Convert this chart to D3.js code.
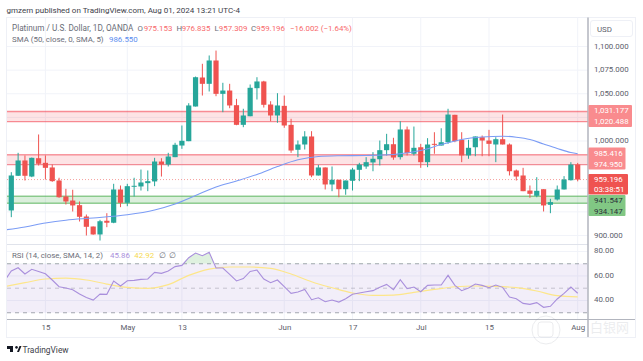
<!DOCTYPE html>
<html>
<head>
<meta charset="utf-8">
<script src="https://cdnjs.cloudflare.com/ajax/libs/d3/7.8.5/d3.min.js"></script>
<style>
html, body { margin: 0; padding: 0; background: #fff; }
svg { display: block; font-family: Roboto, sans-serif; }
</style>
</head>
<body>
<svg id="chart" width="643" height="361"></svg>
<script>
// daily candles, first bar is 8 Apr, last is 1 Aug
var opens = [926.5,963.2,979.4,962.4,981.8,976.9,972,958.2,941.3,937,932.1,920.1,909.5,901.1,915.6,913.5,948.7,934.6,951.9,951.9,955.4,957.2,978.3,975.1,982.9,995.2,
    999.8,1036.5,1067.2,1060.5,1085.2,1049.9,1053.4,1037.9,1017.1,1026.2,1055.9,1063,1038.6,1027,1037.2,1017.1,990.7,996.3,1004.8,963.5,972,954,959,949,957.9,969.5,
    973,977.3,980.7,990.3,996.6,982.9,1012.2,986.5,993.4,977.6,997,995.2,998.7,1027.7,1001.3,984.7,993.4,1004,1000.5,996.3,1001.9,996.3,968.8,963.5,947.6,942,949,
    932.5,938.1,948.7,958.5,975.153];
var highs = [967,987.5,984.7,982.5,1006.9,984.7,975.1,961.1,949.4,948.4,936,922.2,909.5,916.6,923.6,954.7,952.9,954.7,961.1,969.8,968.8,982.2,981.8,987.5,998.1,1016.4,
    1040,1068.2,1081.7,1090.5,1095.7,1061.6,1060.5,1044.6,1034.1,1059.8,1067.5,1063.7,1042.1,1050.6,1048.1,1023.5,1000.5,1010.4,1010.4,974.8,972,973,959,958.2,971.6,976.9,
    982.9,988.2,1000.5,1007.6,1003.4,1020.9,1015.3,1015.3,997,1003,1009.3,1013.5,1034.1,1027.7,1009.3,1001.3,1004.8,1005.8,1011.8,1004,1028,997.4,969.8,971.6,952.9,961.7,949,
    938.8,952.9,962.8,977.6,976.835];
var lows = [919.4,963,958.2,961.7,974.1,959.3,956.8,939.9,932.8,925.4,914.8,900,900.8,894.7,908.8,913,930,931,941.3,947.6,946.9,952.2,962.4,973,982.9,991.7,
    999.8,1036.5,1048.1,1052.4,1047.4,1030.5,1034.7,1016.7,1014.6,1026.2,1043.9,1035.4,1020.9,1019.3,1014,987.5,982.9,991,961.7,963.5,948.7,946.9,940.5,943.1,947.6,957.5,
    970.6,968,974.1,984.7,980.1,980.4,984.7,984.7,971.6,972.3,986.5,995.2,997,998.7,977.6,981.2,983.9,983.9,983.9,977.6,996.3,963.5,958.2,946.9,939.9,940.5,925.4,
    923.6,937,948.7,958.2,957.309];
var closes = [963.5,979.4,963.2,982.2,975.9,971.6,957.5,940.5,936,931.8,919.8,909.2,901.1,915.1,913.5,948.7,934.6,952.2,952.6,956.1,957.5,978.3,975.1,983.6,996,1000.2,
    1037.6,1067.5,1060.5,1085.2,1049.9,1053.4,1037.6,1017.1,1027,1056.3,1063,1038.3,1027,1037.6,1016.4,989.9,996.3,1004.8,963.5,972,954,959,949,958.2,969.8,975.1,
    977.6,981.2,990.3,996.6,982.5,1012.2,987.1,992.8,977.6,996.3,996.3,998.7,1028,999.8,984.7,992.8,1004.8,1000.5,997,1001.9,996.3,968,962.4,946.9,944.1,947.3,931.8,
    935.3,948.7,959.3,975.1,959.196];

var smaIndex = [-1,2,5,8,12,17,21,24,27,30,33,36,39,42,45,48,52,56,60,63,66,69,72,74,76,78,80,82,83];
var smaValues = [905.8,909,913.2,916.2,918.5,921.9,927,933.3,942.3,951.3,957.7,964.6,973,980.1,983.6,984.4,984.7,985.7,989.9,996.3,1001.6,1004.2,1005.1,1004,1001.6,996.8,992.1,987.8,986.55];

// rsi starts one bar left of the visible candles
var rsiValues = [55.9,64,66.7,61.6,65.4,63.7,61.8,56.7,51.2,50.1,48.8,45.2,42.5,40.3,45.2,45,55.9,51.8,56.1,56.4,57.2,57.5,62.9,62.1,64,67.6,68.6,74.9,78.7,76.5,79.3,
    66.5,66.5,61.3,55.9,57.8,63.7,64.8,57.5,54.5,56.7,51.2,45.8,46.9,49,40.6,42.2,39,40.3,38.7,41.4,45,46.1,47.1,48,50.7,53.1,48.8,56.9,49.6,51,47.1,52.3,52.6,52.6,
    60.5,52.3,48,50.1,53.4,52.3,50.4,52.6,50.7,42.8,41.4,37.6,36.8,38.2,34.4,35.2,41.2,45.8,51,45.86];
var rsiSmaIndex = [-1,2,5,8,11,14,17,20,23,26,29,32,35,38,41,44,47,50,53,56,59,62,65,68,71,74,77,80,83];
var rsiSmaValues = [51.2,54.5,57.5,58.3,56.7,53.4,50.7,49.9,52.9,60.5,65.6,67.3,67.3,66.2,61.6,55.3,50.4,46.1,44.1,44.4,46.6,49,51.2,51.8,51.5,50.4,47.7,43.9,42.92];

var redZone1 = [1020.488, 1031.177];
var redZone2 = [974.95, 985.416];
var greenZone = [934.147, 941.547];
var lastPrice = 959.196;

var priceGrid = [1100,1075,1050,1025,1000,975,950,925,900];
var priceTicks = [1100,1075,1050,1000,900];
var rsiTicks = [80,60,40];
var rsiBands = [70,50,30];
var dateTicks = [5,17,25,40,50,60,70,83];
var dateLabels = ["15","May","13","Jun","17","Jul","15","Aug"];

//////////////////////////////////////////////////////////////////////////////

var UP = "#26a69a", DOWN = "#ef5350";
var plotLeft = 7, plotRight = 588, plotTop = 17.5;
var textCol = "#5d606b";
var fontSize = 7.9;

var x = d3.scaleLinear().domain([0, 83]).range([11.3, 577.7]);
var y = d3.scaleLinear().domain([900, 1100]).range([235.5, 46.5]);
var yRsi = d3.scaleLinear().domain([30, 70]).range([312.7, 263.7]);

var svg = d3.select("#chart");
svg.append("defs").append("clipPath").attr("id", "plot")
    .append("rect").attr("x", plotLeft).attr("y", plotTop).attr("width", plotRight - plotLeft).attr("height", 302);
svg.select("defs").append("clipPath").attr("id", "over70")
    .append("rect").attr("x", plotLeft).attr("y", plotTop).attr("width", plotRight - plotLeft).attr("height", yRsi(70) - plotTop);

function addText(t, tx, ty, col, size, anchor) {
    return svg.append("text").text(t).attr("x", tx).attr("y", ty)
        .attr("fill", col).attr("font-size", size || fontSize).attr("text-anchor", anchor || "start");
}

// frame
svg.append("rect")
    .attr("x", 6.5).attr("y", 17.5).attr("width", 629).attr("height", 320)
    .attr("fill", "#fff").attr("stroke", "#eef0f6");

//////////////////////////////////////////////////////////////////////////////
// grid

var grid = svg.append("g").attr("stroke", "#f1f3f9");
grid.selectAll("line.p").data(priceGrid).enter().append("line")
    .attr("x1", plotLeft).attr("x2", plotRight).attr("y1", d => y(d)).attr("y2", d => y(d));
grid.selectAll("line.r").data(rsiTicks).enter().append("line")
    .attr("x1", plotLeft).attr("x2", plotRight).attr("y1", d => yRsi(d)).attr("y2", d => yRsi(d));
grid.selectAll("line.d").data(dateTicks).enter().append("line")
    .attr("x1", d => x(d)).attr("x2", d => x(d)).attr("y1", plotTop).attr("y2", 319);

//////////////////////////////////////////////////////////////////////////////
// zones

function addZone(z, col, fillOpacity, lineOpacity) {
    svg.append("rect")
        .attr("x", plotLeft).attr("width", plotRight - plotLeft)
        .attr("y", y(z[1])).attr("height", y(z[0]) - y(z[1]))
        .attr("fill", col).attr("fill-opacity", fillOpacity);
    z.forEach(v => {
        svg.append("line")
            .attr("x1", plotLeft).attr("x2", plotRight).attr("y1", y(v)).attr("y2", y(v))
            .attr("stroke", col).attr("stroke-opacity", lineOpacity).attr("stroke-width", 1.4);
    });
}
addZone(redZone1, "#f23645", 0.14, 0.55);
addZone(redZone2, "#f23645", 0.14, 0.5);
addZone(greenZone, "#4caf50", 0.2, 0.6);

svg.append("line")
    .attr("x1", plotLeft).attr("x2", plotRight).attr("y1", y(lastPrice)).attr("y2", y(lastPrice))
    .attr("stroke", DOWN).attr("stroke-opacity", 0.55).attr("stroke-dasharray", "1,2");

//////////////////////////////////////////////////////////////////////////////
// candles

var candles = svg.append("g").selectAll("g").data(d3.range(opens.length)).enter().append("g");
candles.append("line")
    .attr("x1", i => x(i)).attr("x2", i => x(i))
    .attr("y1", i => y(highs[i])).attr("y2", i => y(lows[i]))
    .attr("stroke", i => closes[i] >= opens[i] ? UP : DOWN);
candles.append("rect")
    .attr("x", i => x(i) - 2.6).attr("width", 5.2)
    .attr("y", i => y(Math.max(opens[i], closes[i])))
    .attr("height", i => Math.max(1, Math.abs(y(opens[i]) - y(closes[i]))))
    .attr("fill", i => closes[i] >= opens[i] ? UP : DOWN);

svg.append("path")
    .attr("clip-path", "url(#plot)")
    .attr("d", d3.line().curve(d3.curveMonotoneX).x((d, i) => x(smaIndex[i])).y(d => y(d))(smaValues))
    .attr("fill", "none").attr("stroke", "#7b9cf5").attr("stroke-width", 1.1);

//////////////////////////////////////////////////////////////////////////////
// rsi pane

svg.append("line").attr("x1", plotLeft).attr("x2", plotRight).attr("y1", 244.5).attr("y2", 244.5).attr("stroke", "#e0e3eb");
svg.append("rect")
    .attr("x", plotLeft).attr("width", plotRight - plotLeft)
    .attr("y", yRsi(70)).attr("height", yRsi(30) - yRsi(70))
    .attr("fill", "#7e57c2").attr("fill-opacity", 0.1);
svg.selectAll("line.band").data(rsiBands).enter().append("line")
    .attr("x1", plotLeft).attr("x2", plotRight).attr("y1", d => yRsi(d)).attr("y2", d => yRsi(d))
    .attr("stroke", "#8f929c").attr("stroke-opacity", d => d == 50 ? 0.6 : 0.8)
    .attr("stroke-width", d => d == 50 ? 0.8 : 1.1)
    .attr("stroke-dasharray", "4,4");

svg.append("path")
    .attr("clip-path", "url(#over70)")
    .attr("d", d3.area().x((d, i) => x(i - 1)).y0(yRsi(70)).y1(d => yRsi(d))(rsiValues))
    .attr("fill", "#4caf50").attr("fill-opacity", 0.18);
svg.append("g").attr("clip-path", "url(#plot)").append("path")
    .attr("d", d3.line().curve(d3.curveMonotoneX).x((d, i) => x(rsiSmaIndex[i])).y(d => yRsi(d))(rsiSmaValues))
    .attr("fill", "none").attr("stroke", "#fde68a").attr("stroke-width", 1.2);
svg.append("g").attr("clip-path", "url(#plot)").append("path")
    .attr("d", d3.line().x((d, i) => x(i - 1)).y(d => yRsi(d))(rsiValues))
    .attr("fill", "none").attr("stroke", "#a98fdc").attr("stroke-width", 1.1);

//////////////////////////////////////////////////////////////////////////////
// axes

var priceAxis = d3.axisRight(y).tickValues(priceTicks).tickSize(0).tickPadding(0).tickFormat(d3.format(",.3f"));
var rsiAxis = d3.axisRight(yRsi).tickValues(rsiTicks).tickSize(0).tickPadding(0).tickFormat(d3.format(".2f"));
var dateAxis = d3.axisBottom(x).tickValues(dateTicks).tickSize(0).tickPadding(0)
    .tickFormat(d => dateLabels[dateTicks.indexOf(d)]);

function styleAxis(sel) {
    sel.select(".domain").remove();
    sel.selectAll("text").attr("fill", textCol).attr("font-size", fontSize).style("font-family", "Roboto, sans-serif");
}
svg.append("g").attr("transform", "translate(594,-1)").call(priceAxis).call(styleAxis);
svg.append("g").attr("transform", "translate(594,-1)").call(rsiAxis).call(styleAxis);
svg.append("g").attr("transform", "translate(0,324)").call(dateAxis).call(styleAxis);

svg.append("line").attr("x1", plotLeft).attr("x2", 635).attr("y1", 319.5).attr("y2", 319.5).attr("stroke", "#b2b5be");
svg.append("line").attr("x1", plotRight).attr("x2", plotRight).attr("y1", plotTop).attr("y2", 337).attr("stroke", "#b2b5be").attr("stroke-width", 1.5);

svg.append("rect")
    .attr("x", 590.5).attr("y", 20.5).attr("width", 42).attr("height", 16).attr("rx", 2.5)
    .attr("fill", "#fff").attr("stroke", "#eef0f6");
addText("USD", 597, 32, textCol);

//////////////////////////////////////////////////////////////////////////////
// price labels

function priceLabel(width, yTop, height, fill, lines, col) {
    svg.append("rect")
        .attr("x", 588.5).attr("y", yTop).attr("width", width).attr("height", height)
        .attr("rx", 1).attr("fill", fill);
    lines.forEach((t, i) => addText(t, 594, yTop + height * (i + 0.5) / lines.length + 2.8, col));
}
var fmt = d3.format(",.3f");
priceLabel(43.5, 105, 22, "#f98b8e", [fmt(redZone1[1]), fmt(redZone1[0])], "#fff");
priceLabel(37, 147.5, 22, "#f98b8e", [fmt(redZone2[1]), fmt(redZone2[0])], "#fff");
priceLabel(39.5, 174, 20.5, "#ef5350", [fmt(lastPrice), "03:38:51"], "#fff");
priceLabel(37, 195, 21, "#81c784", [fmt(greenZone[1]), fmt(greenZone[0])], "#2a2e39");

//////////////////////////////////////////////////////////////////////////////
// header and legends

var legendCol = "#6a6d78", redText = "#f7696b", blueText = "#5b8def";
addText("gmzern published on TradingView.com, Aug 01, 2024 13:21 UTC-4", 6.5, 12.5, "#3d4049", 8);
addText("Platinum / U.S. Dollar, 1D, OANDA", 12, 30.5, legendCol, 8.2);
addText("O", 137.5, 30.5, legendCol);
addText("975.153", 143.7, 30.5, redText);
addText("H", 176.5, 30.5, legendCol);
addText("976.835", 181.7, 30.5, redText);
addText("L", 214.5, 30.5, legendCol);
addText("957.309", 218.8, 30.5, redText);
addText("C", 251, 30.5, legendCol);
addText("959.196", 256.3, 30.5, redText);
addText("\u221216.002 (\u22121.64%)", 290, 30.5, redText);
addText("SMA (50, close, 0, SMA, 5)", 12, 42, legendCol);
addText("986.550", 109, 42, blueText);
addText("RSI (14, close, SMA, 14, 2)", 12, 258, legendCol);
addText("45.86", 110, 258, "#a98fdc");
addText("42.92", 134.3, 258, "#f5d94e");
addText("\u2205", 159, 258, legendCol);
addText("\u2205", 169.3, 258, legendCol);

// tradingview mark
svg.append("path")
    .attr("d", "M7 346h6v6h-3v-3h-3z M16.5 346a1.4 1.4 0 1 0 .01 0z M17 352l2.5-6h2l-2.5 6z")
    .attr("fill", "#131722");
addText("TradingView", 22.5, 352.5, "#3d4049", 8.4);

// faint forum watermark
var wm = svg.append("g").attr("opacity", 0.16);
wm.append("circle").attr("cx", 546).attr("cy", 330).attr("r", 14)
    .attr("fill", "none").attr("stroke", "#8a8f9c").attr("stroke-width", 1);
wm.append("rect").attr("x", 538).attr("y", 322).attr("width", 15).attr("height", 15).attr("rx", 3)
    .attr("fill", "none").attr("stroke", "#8a8f9c").attr("stroke-width", 1);
wm.append("text").text("白银网").attr("x", 590).attr("y", 332).attr("font-size", 13)
    .attr("fill", "#8a8f9c").style("font-family", "'Noto Sans CJK SC'");
</script>
</body>
</html>
